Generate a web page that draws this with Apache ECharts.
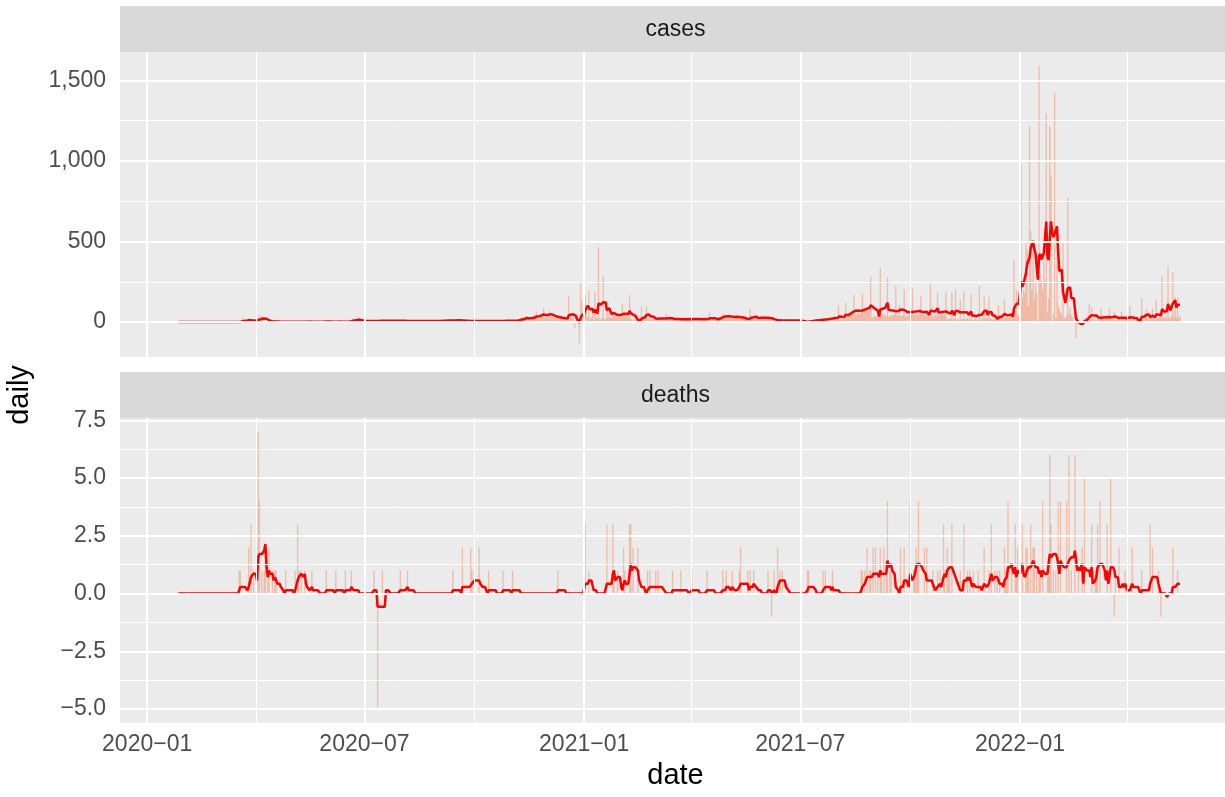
<!DOCTYPE html>
<html>
<head>
<meta charset="utf-8">
<script src="https://cdn.jsdelivr.net/npm/echarts@6/dist/echarts.min.js"></script>
<style>
  html, body { margin: 0; padding: 0; background: #ffffff; }
  #chart { width: 1225px; height: 797px; }
</style>
</head>
<body>
<div id="chart"></div>
<script>
// Daily reported counts, one value per day from startDate (one row per calendar month)
const startDate = '2020-01-21';

const casesDaily = [
  /* 2020-01 */ 0,0,0,0,0,0,0,0,0,0,0,
  /* 2020-02 */ 0,0,0,0,0,0,0,0,0,0, 0,0,0,0,0,0,0,0,0,0, 0,0,0,0,0,0,0,0,0,
  /* 2020-03 */ 0,0,0,0,0,0,0,0,0,0, 0,0,0,0,0,1,0,0,2,0, 31,8,10,12,6,14,9,11,7,13, 8,
  /* 2020-04 */ 2,3,25,44,20,38,12,15,10,4, 3,5,2,4,3,2,1,3,2,4, 2,1,3,2,1,2,3,1,2,1,
  /* 2020-05 */ 2,1,3,2,4,1,2,3,1,2, 5,2,1,3,2,4,2,1,3,2, 1,2,3,4,2,1,3,2,5,3, 2,
  /* 2020-06 */ 2,3,1,2,4,3,2,1,3,2, 4,2,3,1,2,3,2,4,3,6, 25,18,12,20,10,14,8,5,4,6,
  /* 2020-07 */ 7,5,6,8,4,6,7,5,6,8, 5,7,9,8,10,7,9,8,6,9, 8,10,7,9,8,7,9,6,8,10, 7,
  /* 2020-08 */ 8,7,6,9,7,5,8,6,7,5, 6,8,4,6,7,5,6,7,5,6, 8,5,6,7,4,6,7,5,6,5, 7,
  /* 2020-09 */ 6,8,10,7,12,9,8,11,10,9, 12,8,10,11,9,13,10,8,12,9, 10,8,7,6,8,5,7,6,5,7,
  /* 2020-10 */ 6,5,7,6,8,5,6,4,7,6, 5,6,7,5,8,6,4,6,7,5, 6,8,7,6,9,8,7,10,8,9, 7,
  /* 2020-11 */ 8,9,7,10,12,8,9,20,25,30, 18,22,28,35,15,20,24,30,38,20, 45,60,28,35,50,40,30,87,25,40,
  /* 2020-12 */ 55,30,70,35,40,45,20,28,25,35, 30,22,18,15,30,20,25,18,162,30, 40,25,35,-40,30,20,25,-131,246,131, 40,
  /* 2021-01 */ 40,169,60,30,194,20,25,69,15,190, 30,20,464,20,15,25,287,20,15,131, 30,90,25,40,30,45,60,35,50,40, 55,
  /* 2021-02 */ 30,115,40,50,35,45,30,169,20,15, 10,20,8,12,5,15,20,94,25,30, 20,100,25,30,20,15,20,25,
  /* 2021-03 */ 20,25,18,22,30,15,20,25,18,22, 52,15,20,18,22,16,20,18,15,22, 17,19,14,18,20,16,15,22,18,20, 17,
  /* 2021-04 */ 18,20,15,22,19,17,21,16,20,18, 15,22,19,17,20,64,12,15,18,16, 14,20,25,30,28,35,52,30,45,32,
  /* 2021-05 */ 28,30,35,25,40,30,28,32,35,30, 28,33,25,20,15,12,18,14,25,81, 20,25,30,22,28,26,24,30,25,27, 22,
  /* 2021-06 */ 25,28,30,24,26,20,15,12,10,8, 9,11,10,12,8,10,9,11,10,8, 12,9,10,11,8,10,9,12,10,8,
  /* 2021-07 */ 5,3,2,1,0,3,2,5,8,10, 12,9,11,10,13,12,15,14,16,18, 17,19,16,20,22,25,24,28,26,30, 28,
  /* 2021-08 */ 15,106,12,20,18,25,20,121,45,50, 40,60,55,65,169,50,45,60,55,50, 65,177,70,65,80,75,70,85,281,30, 25,
  /* 2021-09 */ 40,35,30,45,35,340,50,45,55,40, 35,277,30,40,35,45,40,50,225,45, 40,106,35,40,45,202,30,35,40,45,
  /* 2021-10 */ 35,40,208,45,40,50,45,40,55,162, 45,50,40,45,50,40,35,231,35,40, 30,45,35,183,40,45,50,40,55,45, 188,
  /* 2021-11 */ 20,15,25,20,183,15,20,202,15,20, 10,140,15,20,192,15,20,25,15,20, 173,15,10,15,20,10,15,223,20,15,
  /* 2021-12 */ 30,160,25,30,20,156,25,20,15,20, 15,25,20,104,20,25,30,20,142,25, 30,35,25,40,30,45,385,60,198,40, 45,
  /* 2022-01 */ 60,979,150,200,180,500,454,100,1215,567, 200,490,150,250,180,0,1590,300,250,200, 479,250,1298,65,150,1219,910,0,50,1423, 20,
  /* 2022-02 */ 535,100,80,60,50,494,30,20,40,773, 50,94,40,30,10,5,-100,0,5,0, 0,5,10,20,25,15,20,110,
  /* 2022-03 */ 15,94,20,15,20,10,25,15,20,83, 25,20,15,30,25,20,83,15,20,25, 62,15,20,30,25,10,62,20,15,25, 20,
  /* 2022-04 */ 15,10,98,10,15,5,20,10,15,5, 20,10,146,15,20,25,83,20,15,30, 25,83,20,15,140,20,25,30,40,285,
  /* 2022-05 */ 30,25,35,20,348,30,25,40,310,35, 156,30,152,25,40
];

const deathsDaily = [
  /* 2020-01 */ 0,0,0,0,0,0,0,0,0,0,0,
  /* 2020-02 */ 0,0,0,0,0,0,0,0,0,0, 0,0,0,0,0,0,0,0,0,0, 0,0,0,0,0,0,0,0,0,
  /* 2020-03 */ 0,0,0,0,0,0,0,0,0,0, 0,0,0,0,0,0,0,1,1,0, 0,0,0,0,0,2,0,3,0,1, 0,
  /* 2020-04 */ 0,0,7,4,0,1,0,1,2,0, 1,2,0,0,1,0,1,1,0,0, 0,0,0,0,0,1,0,0,0,0,
  /* 2020-05 */ 0,0,0,1,0,3,1,0,1,0, 0,1,0,0,0,0,0,1,0,0, 0,0,0,0,0,0,0,0,0,1, 0,
  /* 2020-06 */ 0,0,0,0,0,0,1,0,0,0, 0,0,0,0,1,0,0,0,0,1, 0,0,0,0,0,0,0,0,0,0,
  /* 2020-07 */ 0,0,0,0,0,0,0,0,1,0, 0,-5,0,0,0,1,0,0,0,0, 0,0,0,0,0,0,0,0,0,0, 1,
  /* 2020-08 */ 0,0,0,0,0,1,0,0,0,0, 0,0,0,0,0,0,0,0,0,0, 0,0,0,0,0,0,0,0,0,0, 0,
  /* 2020-09 */ 0,0,0,0,0,0,0,0,0,0, 0,0,1,0,0,0,0,0,0,0, 2,0,0,0,0,0,0,2,1,0,
  /* 2020-10 */ 1,0,0,0,2,0,0,0,0,0, 0,0,1,0,0,0,0,0,0,0, 0,0,0,0,1,0,0,0,0,0, 0,
  /* 2020-11 */ 0,1,0,0,0,0,0,0,0,0, 0,0,0,0,0,0,0,0,0,0, 0,0,0,0,0,0,0,0,0,0,
  /* 2020-12 */ 0,0,0,0,0,0,0,0,0,1, 0,0,0,0,0,0,0,0,0,0, 0,0,0,0,0,0,0,0,0,0, 0,
  /* 2021-01 */ 0,3,0,0,1,0,0,0,0,0, 0,0,0,0,0,0,0,0,0,3, 0,0,0,0,3,1,0,0,1,0, 0,
  /* 2021-02 */ 0,0,2,1,0,0,0,3,3,0, 2,0,0,0,2,0,0,0,0,0, 0,0,1,0,1,0,0,0,
  /* 2021-03 */ 0,1,0,1,0,0,0,0,0,0, 0,0,0,0,0,1,0,0,0,0, 0,0,1,0,0,0,0,0,0,0, 0,
  /* 2021-04 */ 1,0,0,0,0,0,0,0,0,0, 0,0,0,1,0,0,0,0,0,0, 0,0,0,0,0,0,1,0,0,1,
  /* 2021-05 */ 0,0,0,0,1,0,0,0,0,0, 1,2,0,0,0,0,0,1,0,1, 0,0,1,0,0,0,0,0,0,0, 0,
  /* 2021-06 */ 0,0,0,1,0,0,-1,0,1,0, 0,2,0,1,0,1,0,0,0,0, 0,0,0,0,0,0,0,0,0,0,
  /* 2021-07 */ 0,0,0,0,0,0,1,1,0,0, 0,0,0,0,0,0,0,0,0,1, 0,1,0,0,0,0,0,1,0,0, 0,
  /* 2021-08 */ 0,0,0,0,0,0,0,0,0,0, 0,0,0,0,0,0,0,0,0,0, 1,1,0,1,0,2,0,1,1,0, 2,
  /* 2021-09 */ 0,2,0,1,0,2,1,0,2,0, 1,4,0,1,1,0,0,0,0,0, 0,0,2,0,0,2,0,0,0,0,
  /* 2021-10 */ 4,0,0,1,1,2,1,4,0,0, 0,0,2,0,2,0,0,0,0,1, 0,0,0,1,0,1,0,0,3,1, 0,
  /* 2021-11 */ 2,1,1,0,3,0,0,0,0,0, 0,1,0,0,3,0,0,1,0,1, 0,0,1,0,0,0,1,0,0,0,
  /* 2021-12 */ 0,2,0,0,0,1,0,3,0,0, 1,0,1,0,1,0,0,0,2,1, 1,4,0,0,1,0,0,3,1,2, 0,
  /* 2022-01 */ 0,0,3,0,0,2,2,1,0,3, 0,2,2,0,1,0,1,1,0,4, 0,0,0,1,1,6,3,0,1,0, 1,
  /* 2022-02 */ 0,4,0,4,0,0,0,0,4,0, 6,0,1,0,0,6,0,0,1,0, 0,2,0,5,0,0,0,0,
  /* 2022-03 */ 0,3,0,0,1,1,3,0,4,0, 0,0,0,0,3,0,0,5,0,0, -1,1,0,0,2,0,0,0,0,1, 0,
  /* 2022-04 */ 0,0,0,0,2,0,0,0,0,0, 0,0,1,0,0,0,0,0,0,3, 0,2,0,0,0,0,1,0,-1,0,
  /* 2022-05 */ 0,0,0,0,0,0,0,0,2,0, 0,0,1,0,0
];

// Axis breaks
const xMajorDates = ['2020-01-01', '2020-07-01', '2021-01-01', '2021-07-01', '2022-01-01'];
const xMinorDates = ['2020-04-01', '2020-10-01', '2021-04-01', '2021-10-01', '2022-04-01'];
const casesMajor = [0, 500, 1000, 1500];
const casesMinor = [250, 750, 1250];
const deathsMajor = [-5, -2.5, 0, 2.5, 5, 7.5];
const deathsMinor = [-3.75, -1.25, 1.25, 3.75, 6.25];
const panelNames = ['cases', 'deaths'];

// ---- helpers: x positions are day numbers counted from 2020-01-01 ----
const DAY_MS = 86400000;
const ORIGIN = Date.UTC(2020, 0, 1);
const dayOf = s => Math.round((Date.parse(s) - ORIGIN) / DAY_MS);
const dateLabel = v => {
  const d = new Date(ORIGIN + Math.round(v) * DAY_MS);
  return d.getUTCFullYear() + '\u2212' + String(d.getUTCMonth() + 1).padStart(2, '0');
};
const firstDay = dayOf(startDate);

function toBars(arr) { return arr.map((v, i) => [firstDay + i, v]); }
// trailing 7-day mean
function rolling7(arr) {
  const out = [];
  for (let i = 6; i < arr.length; i++) {
    let s = 0;
    for (let k = i - 6; k <= i; k++) s += arr[k];
    out.push([firstDay + i, s / 7]);
  }
  return out;
}
function expandRange(lo, hi) {
  const pad = (hi - lo) * 0.05;
  return [lo - pad, hi + pad];
}

// ---- layout ----
const FONT = '"Liberation Sans", Arial, Helvetica, sans-serif';
const CANVAS_W = 1225;
const LEFT = 120, PANEL_W = 1111;          // full panel width; the page edge cuts it at 1225
const VISIBLE_W = CANVAS_W - LEFT;
const STRIP_H = 46;
const P1_TOP = 52, P2_TOP = 418, P_H = 305;
const centerX = LEFT + PANEL_W / 2;

const nDays = casesDaily.length;
const xFull = expandRange(firstDay - 0.45, firstDay + nDays - 1 + 0.45);
// only the part of the panel that fits on the page is laid out as a grid
const xRange = [xFull[0], xFull[0] + (xFull[1] - xFull[0]) * VISIBLE_W / PANEL_W];
const casesRange = expandRange(Math.min(0, ...casesDaily), Math.max(0, ...casesDaily));
const deathsRange = expandRange(Math.min(0, ...deathsDaily), Math.max(0, ...deathsDaily));

const chart = echarts.init(document.getElementById('chart'), null, { renderer: 'canvas' });

const xMajor = xMajorDates.map(dayOf);
const xMinor = xMinorDates.map(dayOf);

function gridLines(xMaj, xMin, yMaj, yMin) {
  const major = { color: '#FFFFFF', width: 2, type: 'solid' };
  const minor = { color: '#FFFFFF', width: 1, type: 'solid' };
  return [
    ...xMin.map(v => ({ xAxis: v, lineStyle: minor })),
    ...yMin.map(v => ({ yAxis: v, lineStyle: minor })),
    ...xMaj.map(v => ({ xAxis: v, lineStyle: major })),
    ...yMaj.map(v => ({ yAxis: v, lineStyle: major }))
  ];
}

function gridSeries(idx, yMaj, yMin) {
  return {
    type: 'line', xAxisIndex: idx, yAxisIndex: idx, data: [], z: 1,
    silent: true,
    markLine: {
      silent: true, symbol: ['none', 'none'], label: { show: false },
      emphasis: { disabled: true },
      animation: false,
      data: gridLines(xMajor, xMinor, yMaj, yMin)
    }
  };
}

const barColor = 'rgba(245,140,100,0.5)';
const lineColor = '#FF0000';

function xAxisFor(idx, showLabels) {
  return {
    type: 'value', gridIndex: idx, min: xRange[0], max: xRange[1],
    axisLine: { show: false },
    splitLine: { show: false },
    axisTick: {
      show: showLabels, customValues: xMajor, length: 6,
      lineStyle: { color: '#333333', width: 2 }
    },
    axisLabel: {
      show: showLabels, customValues: xMajor, formatter: dateLabel,
      color: '#4D4D4D', fontSize: 23, fontFamily: FONT, margin: 10
    }
  };
}

function yAxisFor(idx, range, majors, fmt) {
  return {
    type: 'value', gridIndex: idx, min: range[0], max: range[1],
    axisLine: { show: false },
    splitLine: { show: false },
    axisTick: {
      show: true, customValues: majors, length: 6,
      lineStyle: { color: '#333333', width: 2 }
    },
    axisLabel: {
      customValues: majors, formatter: fmt,
      color: '#4D4D4D', fontSize: 23, fontFamily: FONT, margin: 14
    }
  };
}

const fmtCases = v => Math.round(v).toLocaleString('en-US');
const fmtDeaths = v => (v < 0 ? '\u2212' : '') + Math.abs(v).toFixed(1);

function strip(top, text) {
  return [
    { type: 'rect', shape: { x: LEFT, y: top, width: PANEL_W, height: STRIP_H },
      style: { fill: '#D9D9D9' }, silent: true },
    { type: 'text', x: centerX, y: top + STRIP_H / 2 + 1,
      style: { text: text, fill: '#1A1A1A', font: '23px ' + FONT,
               textAlign: 'center', textVerticalAlign: 'middle' }, silent: true }
  ];
}

const option = {
  animation: false,
  backgroundColor: '#FFFFFF',
  grid: [
    { left: LEFT, top: P1_TOP, width: VISIBLE_W, height: P_H, show: true,
      backgroundColor: '#EBEBEB', borderWidth: 0, containLabel: false },
    { left: LEFT, top: P2_TOP, width: VISIBLE_W, height: P_H, show: true,
      backgroundColor: '#EBEBEB', borderWidth: 0, containLabel: false }
  ],
  xAxis: [xAxisFor(0, false), xAxisFor(1, true)],
  yAxis: [
    yAxisFor(0, casesRange, casesMajor, fmtCases),
    yAxisFor(1, deathsRange, deathsMajor, fmtDeaths)
  ],
  graphic: [
    ...strip(P1_TOP - STRIP_H, panelNames[0]),
    ...strip(P2_TOP - STRIP_H, panelNames[1]),
    { type: 'text', x: centerX, y: 776,
      style: { text: 'date', fill: '#000000', font: '29px ' + FONT,
               textAlign: 'center', textVerticalAlign: 'middle' }, silent: true },
    { type: 'text', x: 20, y: 395, rotation: Math.PI / 2,
      style: { text: 'daily', fill: '#000000', font: '29px ' + FONT,
               textAlign: 'center', textVerticalAlign: 'middle' }, silent: true }
  ],
  series: [
    gridSeries(0, casesMajor, casesMinor),
    gridSeries(1, deathsMajor, deathsMinor),
    { name: 'cases', type: 'bar', xAxisIndex: 0, yAxisIndex: 0, data: toBars(casesDaily),
      barWidth: 1.3, itemStyle: { color: barColor }, z: 2, silent: true },
    { name: 'deaths', type: 'bar', xAxisIndex: 1, yAxisIndex: 1, data: toBars(deathsDaily),
      barWidth: 1.3, itemStyle: { color: barColor }, z: 2, silent: true },
    { name: 'cases 7-day mean', type: 'line', xAxisIndex: 0, yAxisIndex: 0, data: rolling7(casesDaily),
      showSymbol: false, lineStyle: { color: lineColor, width: 2.5 }, z: 3, silent: true },
    { name: 'deaths 7-day mean', type: 'line', xAxisIndex: 1, yAxisIndex: 1, data: rolling7(deathsDaily),
      showSymbol: false, lineStyle: { color: lineColor, width: 2.5 }, z: 3, silent: true }
  ]
};

chart.setOption(option);
</script>
</body>
</html>
